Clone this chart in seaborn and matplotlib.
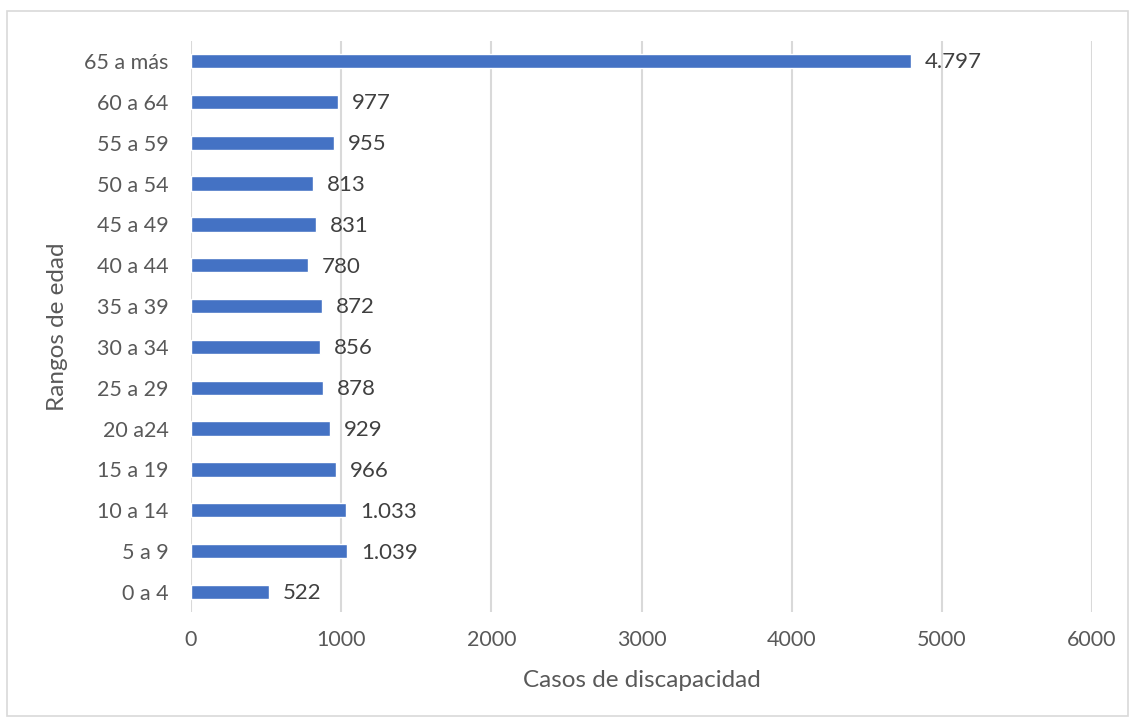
import matplotlib
matplotlib.use("Agg")
import matplotlib.pyplot as plt
import seaborn as sns
import pandas as pd
from matplotlib.patches import Rectangle

categories = ["65 a más", "60 a 64", "55 a 59", "50 a 54", "45 a 49", "40 a 44",
              "35 a 39", "30 a 34", "25 a 29", "20 a24", "15 a 19", "10 a 14",
              "5 a 9", "0 a 4"]
values = [4797, 977, 955, 813, 831, 780, 872, 856, 878, 929, 966, 1033, 1039, 522]
x_ticks = [0, 1000, 2000, 3000, 4000, 5000, 6000]

sns.set_theme(style="white")
plt.rcParams['font.family'] = ['Lato', 'DejaVu Sans']

df = pd.DataFrame({"cat": categories, "val": values})

fig = plt.figure(figsize=(11.34, 7.22), dpi=100)
ax = fig.add_axes([0.1684, 0.1518, 0.963 - 0.1684, 0.9438 - 0.1518])

sns.barplot(data=df, x="val", y="cat", orient="h", color="#4472C4",
            saturation=1, width=0.35, ax=ax, zorder=3)

ax.set_xlim(0, 6000)
ax.set_xticks(x_ticks)
ax.xaxis.grid(True, color="#d9d9d9", linewidth=1.5, zorder=0)
ax.set_axisbelow(True)
for s in ax.spines.values():
    s.set_visible(False)
ax.tick_params(axis="both", length=0, labelsize=15.5, colors="#595959")
ax.tick_params(axis="x", pad=13)
ax.tick_params(axis="y", pad=16)

def fmt(v):
    return f"{v:,}".replace(",", ".")

for i, v in enumerate(values):
    ax.annotate(fmt(v), xy=(v, i), xytext=(10, -1), textcoords="offset points",
                ha="left", va="center", fontsize=16, color="#404040")

ax.set_xlabel("Casos de discapacidad", fontsize=17.5, color="#595959", labelpad=14)
ax.set_ylabel("Rangos de edad", fontsize=17.5, color="#595959", labelpad=12)

fig.patches.append(Rectangle((7 / 1134, 1 - 716 / 722), (1128 - 7) / 1134, (716 - 11) / 722,
                             transform=fig.transFigure, fill=False,
                             edgecolor="#d9d9d9", linewidth=1.2))

fig.savefig("out.png", dpi=100)
